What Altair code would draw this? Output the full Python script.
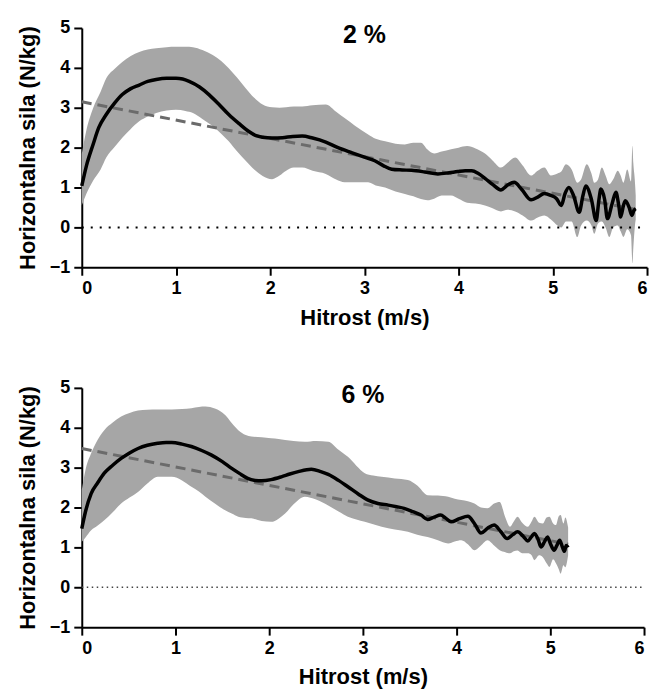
import altair as alt
import pandas as pd

# ---------- 2 % panel ----------
top_mean_x = [0, 0.05, 0.12, 0.18, 0.26, 0.35, 0.43, 0.52, 0.61, 0.7, 0.79, 0.9, 1.0, 1.07, 1.14, 1.25,
              1.35, 1.45, 1.56, 1.67, 1.77, 1.85, 1.92, 2.02, 2.13, 2.24, 2.34, 2.45, 2.59, 2.72, 2.87,
              3.0, 3.11, 3.2, 3.29, 3.4, 3.5, 3.64, 3.78, 3.9, 3.99, 4.07, 4.14, 4.21, 4.28, 4.36,
              4.45, 4.52, 4.59, 4.67, 4.77, 4.84, 4.91, 4.98, 5.04, 5.09, 5.13, 5.17, 5.22, 5.28,
              5.32, 5.35, 5.41, 5.46, 5.49, 5.51, 5.55, 5.58, 5.63, 5.67, 5.7, 5.72, 5.75, 5.77,
              5.81, 5.84, 5.86, 5.88]
top_mean_y = [1.04, 1.55, 2.08, 2.5, 2.83, 3.12, 3.33, 3.48, 3.57, 3.66, 3.71, 3.74, 3.74, 3.72, 3.66, 3.52,
              3.33, 3.1, 2.83, 2.6, 2.41, 2.3, 2.26, 2.24, 2.25, 2.28, 2.29, 2.24, 2.14, 2.0, 1.87,
              1.76, 1.67, 1.55, 1.46, 1.44, 1.43, 1.39, 1.34, 1.37, 1.40, 1.42, 1.42, 1.35, 1.23, 1.08,
              0.94, 1.06, 1.13, 0.95, 0.69, 0.76, 0.85, 0.8, 0.72, 0.55, 0.85, 1.0, 0.8, 0.38,
              0.8, 1.04, 0.7, 0.17, 0.7, 0.96, 0.7, 0.22, 0.6, 0.88, 0.55, 0.26, 0.55, 0.67,
              0.5, 0.30, 0.42, 0.47]

top_band_x = [0, 0.05, 0.12, 0.2, 0.26, 0.35, 0.43, 0.52, 0.61, 0.7, 0.79, 0.9, 1.0, 1.1, 1.18, 1.28,
              1.39, 1.48, 1.56, 1.65, 1.74, 1.83, 1.92, 2.02, 2.1, 2.17, 2.25, 2.34, 2.45, 2.59, 2.7,
              2.79, 2.9, 3.04, 3.12, 3.22, 3.33, 3.43, 3.52, 3.6, 3.67, 3.74, 3.82, 3.92, 4.0, 4.09,
              4.18, 4.28, 4.36, 4.45, 4.52, 4.6, 4.68, 4.77, 4.84, 4.91, 4.98, 5.05, 5.09, 5.14, 5.2,
              5.26, 5.3, 5.36, 5.41, 5.44, 5.48, 5.52, 5.56, 5.6, 5.64, 5.69, 5.72, 5.75, 5.79, 5.83,
              5.845, 5.855, 5.87, 5.88]
top_upper = [1.84, 2.45, 2.99, 3.4, 3.74, 3.98, 4.15, 4.3, 4.40, 4.46, 4.49, 4.52, 4.53, 4.53, 4.52, 4.45,
             4.32, 4.17, 3.99, 3.75, 3.49, 3.25, 3.08, 3.01, 3.0, 3.01, 3.03, 3.03, 3.06, 3.08, 2.9,
             2.74, 2.55, 2.33, 2.22, 2.16, 2.1, 2.08, 2.12, 2.12, 1.95, 1.85, 1.9, 1.96, 2.0, 2.04,
             1.98, 1.85, 1.68, 1.50, 1.62, 1.75, 1.55, 1.30, 1.42, 1.50, 1.3, 1.35, 1.4, 1.58, 1.45,
             1.12, 1.2, 1.58, 1.35, 1.12, 1.2, 1.5, 1.3, 1.08, 1.2, 1.42, 1.3, 1.12, 1.45, 1.15,
             2.05, 1.6, 1.2, 0.8]
top_lower = [0.55, 0.85, 1.17, 1.45, 1.75, 2.02, 2.25, 2.47, 2.66, 2.78, 2.87, 2.93, 2.95, 2.92, 2.87, 2.72,
             2.54, 2.35, 2.16, 1.9, 1.67, 1.45, 1.29, 1.21, 1.3, 1.42, 1.5, 1.50, 1.42, 1.34, 1.2,
             1.13, 1.13, 1.13, 1.05, 1.0, 0.9, 0.84, 0.78, 0.71, 0.68, 0.72, 0.8, 0.8, 0.72, 0.62,
             0.6, 0.55, 0.48, 0.40, 0.44, 0.4, 0.3, 0.17, 0.25, 0.3, 0.2, 0.05, 0.0, 0.15, 0.15,
             -0.24, 0.05, 0.17, 0.05, -0.16, 0.1, 0.15, 0.0, -0.24, 0.0, 0.05, -0.1, -0.24, -0.05, -0.2,
             -0.9, -0.5, 0.0, 0.2]

top_fit_x = [0, 5.88]
top_fit_y = [3.15, 0.45]

# ---------- 6 % panel ----------
bot_mean_x = [0, 0.04, 0.1, 0.17, 0.24, 0.33, 0.42, 0.51, 0.6, 0.7, 0.81, 0.9, 0.96, 1.07, 1.17, 1.28,
              1.38, 1.5, 1.6, 1.7, 1.77, 1.85, 1.92, 2.02, 2.13, 2.22, 2.31, 2.45, 2.55, 2.63, 2.74,
              2.84, 2.95, 3.05, 3.16, 3.27, 3.36, 3.44, 3.53, 3.62, 3.69, 3.76, 3.83, 3.88, 3.94, 4.03,
              4.12, 4.19, 4.26, 4.33, 4.40, 4.47, 4.54, 4.6, 4.65, 4.71, 4.76, 4.8, 4.83, 4.87, 4.9,
              4.94, 4.97, 5.0, 5.04, 5.07, 5.10, 5.13, 5.15, 5.17, 5.19]
bot_mean_y = [1.47, 1.9, 2.35, 2.62, 2.86, 3.06, 3.23, 3.37, 3.48, 3.56, 3.61, 3.63, 3.63, 3.59, 3.53, 3.43,
              3.32, 3.15, 2.98, 2.83, 2.73, 2.68, 2.67, 2.7, 2.77, 2.84, 2.90, 2.96, 2.9, 2.83, 2.68,
              2.52, 2.34, 2.19, 2.1, 2.06, 2.02, 1.98, 1.9, 1.81, 1.70, 1.76, 1.81, 1.74, 1.64, 1.72,
              1.78, 1.6, 1.36, 1.48, 1.56, 1.4, 1.22, 1.32, 1.39, 1.28, 1.16, 1.27, 1.35, 1.2, 1.01,
              1.15, 1.26, 1.1, 0.93, 1.05, 1.18, 1.0, 0.9, 1.05, 1.0]

bot_band_x = [0, 0.04, 0.1, 0.17, 0.24, 0.33, 0.42, 0.51, 0.6, 0.7, 0.81, 0.96, 1.07, 1.17, 1.25, 1.32,
              1.42, 1.53, 1.6, 1.67, 1.75, 1.81, 1.92, 2.02, 2.1, 2.17, 2.26, 2.38, 2.5, 2.63, 2.74,
              2.84, 2.93, 3.02, 3.11, 3.20, 3.34, 3.48, 3.58, 3.69, 3.8, 3.91, 3.98, 4.05, 4.12, 4.19,
              4.26, 4.33, 4.4, 4.46, 4.52, 4.57, 4.61, 4.65, 4.7, 4.76, 4.8, 4.83, 4.88, 4.92, 4.96,
              4.99, 5.03, 5.06, 5.09, 5.11, 5.14, 5.16, 5.19]
bot_upper = [2.44, 2.95, 3.36, 3.7, 3.94, 4.13, 4.28, 4.37, 4.43, 4.45, 4.46, 4.46, 4.47, 4.49, 4.52, 4.53,
             4.48, 4.32, 4.12, 3.94, 3.82, 3.78, 3.76, 3.74, 3.72, 3.69, 3.67, 3.65, 3.67, 3.65, 3.45,
             3.27, 3.05, 2.86, 2.8, 2.77, 2.73, 2.69, 2.55, 2.31, 2.3, 2.27, 2.22, 2.19, 2.16, 2.10,
             2.0, 1.98, 2.1, 2.14, 1.75, 1.52, 1.65, 1.77, 1.62, 1.52, 1.65, 1.77, 1.62, 1.60, 1.75,
             1.77, 1.6, 1.56, 1.78, 1.81, 1.6, 1.75, 1.5]
bot_lower = [1.14, 1.25, 1.43, 1.55, 1.68, 1.88, 2.10, 2.25, 2.39, 2.6, 2.77, 2.77, 2.68, 2.52, 2.4, 2.27,
             2.1, 1.93, 1.85, 1.77, 1.74, 1.73, 1.66, 1.64, 1.72, 1.85, 2.08, 2.27, 2.2, 2.05, 1.9,
             1.77, 1.7, 1.64, 1.58, 1.52, 1.45, 1.39, 1.32, 1.26, 1.18, 1.10, 1.15, 1.18, 1.08, 0.93,
             1.05, 1.18, 1.05, 0.93, 0.88, 0.85, 0.9, 0.92, 0.85, 0.85, 0.8, 0.68, 0.8, 0.75, 0.6,
             0.51, 0.7, 0.6, 0.45, 0.34, 0.55, 0.5, 0.8]

bot_fit_x = [0, 5.19]
bot_fit_y = [3.48, 1.08]

zero_x = [0, 6]
zero_y = [0, 0]

x_ticks = [0, 1, 2, 3, 4, 5, 6]
y_ticks = [-1, 0, 1, 2, 3, 4, 5]

FONT = "Liberation Sans"
BAND = "#a6a6a6"


def panel(mean_x, mean_y, band_x, upper, lower, fit_x, fit_y, label, width, zero_dash, zero_w, zero_col):
    xs = alt.Scale(domain=[0, 6], nice=False)
    ys = alt.Scale(domain=[-1, 5], nice=False)
    xax = alt.Axis(values=x_ticks, title="Hitrost (m/s)", format="d", labelOverlap=False, tickCount=7)
    yax = alt.Axis(values=y_ticks, title="Horizontalna sila (N/kg)", format="d", labelOverlap=False, tickCount=7)

    def X(field):
        return alt.X(field, type="quantitative", scale=xs, axis=xax)

    def Y(field):
        return alt.Y(field, type="quantitative", scale=ys, axis=yax)

    band_df = pd.DataFrame({"x": band_x, "hi": upper, "lo": lower})
    mean_df = pd.DataFrame({"x": mean_x, "y": mean_y})
    fit_df = pd.DataFrame({"x": fit_x, "y": fit_y})
    zero_df = pd.DataFrame({"x": zero_x, "y": zero_y})

    band = alt.Chart(band_df).mark_area(color=BAND, opacity=1, interpolate="monotone").encode(
        x=X("x"), y=Y("hi"), y2="lo:Q",
    )
    zero = alt.Chart(zero_df).mark_line(
        color=zero_col, strokeDash=zero_dash, strokeWidth=zero_w
    ).encode(x=X("x"), y=Y("y"))
    fit = alt.Chart(fit_df).mark_line(
        color="#6b6b6b", strokeDash=[10, 6], strokeWidth=3
    ).encode(x=X("x"), y=Y("y"))
    mean = alt.Chart(mean_df).mark_line(
        color="black", strokeWidth=3.5, strokeJoin="round", interpolate="monotone"
    ).encode(x=X("x"), y=Y("y"))
    txt = alt.Chart(pd.DataFrame({"t": [label]})).mark_text(
        font=FONT, fontSize=25, fontWeight="bold", color="black",
        align="center", baseline="alphabetic"
    ).encode(x=alt.datum(3.0), y=alt.datum(4.63), text="t:N")
    return alt.layer(band, zero, fit, mean, txt).properties(width=width, height=240)


top = panel(top_mean_x, top_mean_y, top_band_x, top_upper, top_lower, top_fit_x, top_fit_y,
            "2 %", 567, [2, 7], 2, "black")
bot = panel(bot_mean_x, bot_mean_y, bot_band_x, bot_upper, bot_lower, bot_fit_x, bot_fit_y,
            "6 %", 564, [1.5, 3.5], 1.5, "#444444")

chart = alt.vconcat(top, bot, spacing=51).properties(
    padding={"top": 10, "left": 8, "right": 2, "bottom": 2}
).configure_view(stroke=None).configure_axis(
    grid=False,
    domainColor="black", domainWidth=2,
    tickColor="black", tickWidth=2, tickSize=8,
    labelFont=FONT, labelFontSize=18, labelFontWeight="bold", labelColor="black",
    labelPadding=4,
    titleFont=FONT, titleFontSize=22, titleFontWeight="bold", titleColor="black",
    titlePadding=10,
)

chart.save("out.html", embed_options={"renderer": "svg", "actions": False})
